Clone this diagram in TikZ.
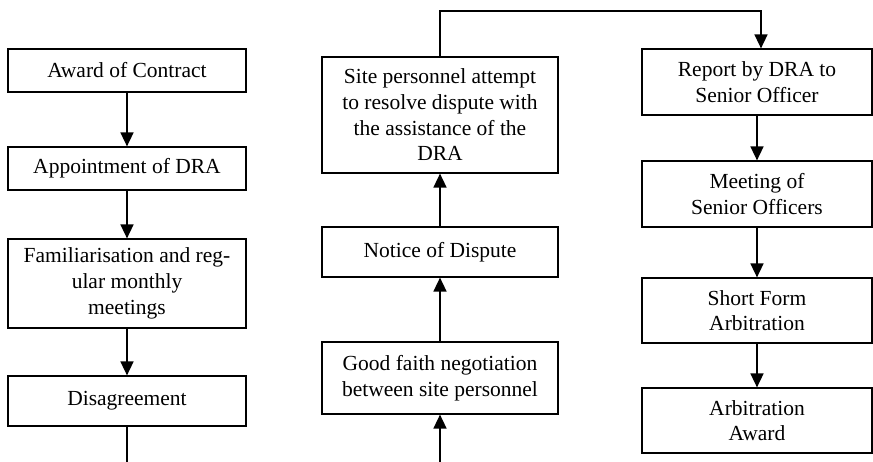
\documentclass[tikz,border=0pt]{standalone}
\usepackage{fontspec}
\setmainfont{Liberation Serif}
\usetikzlibrary{positioning,arrows.meta}

\tikzset{
  stage/.style={draw, line width=1.2pt, align=center, inner sep=0pt,
    font=\fontsize{21.5}{25.7}\selectfont},
  flow/.style={line width=1.6pt, -{Triangle[width=13pt,length=14pt]}}
}

\begin{document}
\begin{tikzpicture}[x=1pt,y=-1pt]
\useasboundingbox (0,0) rectangle (873,462);
% left column
\node[stage, minimum width=238pt, minimum height=43pt](award) at (127,70.5){Award of Contract};
\node[stage, minimum width=238pt, minimum height=43pt](appoint) at (127,168.5){Appointment of DRA};
\node[stage, minimum width=238pt, minimum height=89pt](famil) at (127,283.5){Familiarisation and reg-\\ular monthly\\meetings};
\node[stage, minimum width=238pt, minimum height=50pt](disagree) at (127,401){Disagreement};
\coordinate (leftend) at (127,463);
% middle column
\node[stage, minimum width=236pt, minimum height=116pt](resolve) at (440,115){Site personnel attempt\\to resolve dispute with\\the assistance of the\\DRA};
\node[stage, minimum width=236pt, minimum height=50pt](notice) at (440,252){Notice of Dispute};
\node[stage, minimum width=236pt, minimum height=72pt](faith) at (440,378){Good faith negotiation\\between site personnel};
\coordinate (midend) at (440,463);
\coordinate (top) at (440,11);
% right column
\node[stage, minimum width=230pt, minimum height=66pt](report) at (757,82){Report by DRA to\\Senior Officer};
\node[stage, minimum width=230pt, minimum height=66pt](meeting) at (757,194){Meeting of\\Senior Officers};
\node[stage, minimum width=230pt, minimum height=65pt](short) at (757,310.5){Short Form\\Arbitration};
\node[stage, minimum width=230pt, minimum height=65pt](arbaward) at (757,420.5){Arbitration\\Award};

\draw[flow] (award) -- (appoint);
\draw[flow] (appoint) -- (famil);
\draw[flow] (famil) -- (disagree);
\draw[line width=1.6pt] (disagree) -- (leftend);
\draw[flow] (midend) -- (faith);
\draw[flow] (faith) -- (notice);
\draw[flow] (notice) -- (resolve);
\draw[flow] (resolve) -- (top) -| ([xshift=4pt]report.north);
\draw[flow] (report) -- (meeting);
\draw[flow] (meeting) -- (short);
\draw[flow] (short) -- (arbaward);
\end{tikzpicture}
\end{document}
